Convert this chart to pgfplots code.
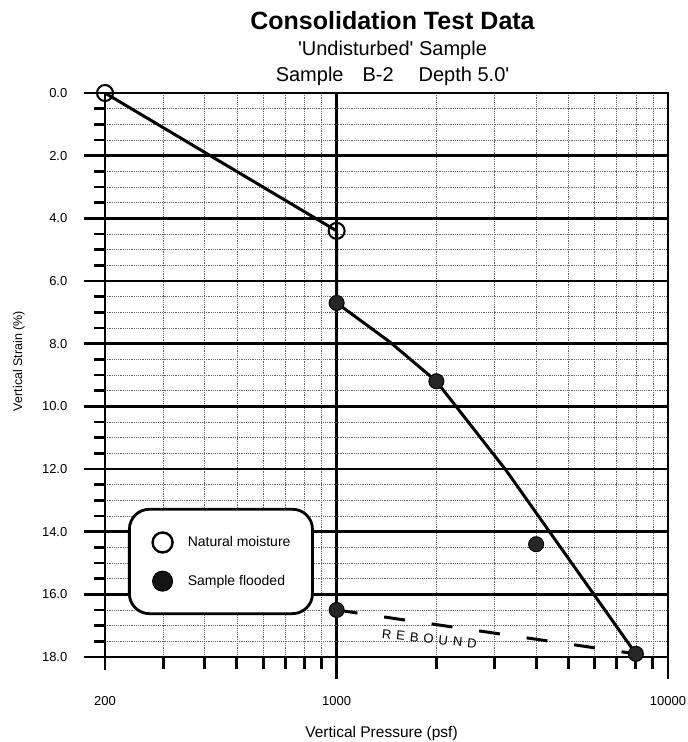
\documentclass[border=0pt]{standalone}
\usepackage{fontspec}
\setmainfont{Liberation Sans}
\newfontfamily\plainsans{Liberation Sans}
\usepackage{pgfplots}
\pgfplotsset{compat=1.18}
\begin{document}
\begin{tikzpicture}[x=1pt,y=1pt]
\useasboundingbox (-105,-85) rectangle (583,657);
\begin{axis}[
  at={(0,0)}, anchor=south west,
  scale only axis, width=563pt, height=564pt,
  xmode=log, xmin=200, xmax=10000,
  ymin=0, ymax=18, y dir=reverse,
  xtick={1000,10000}, xticklabels={1000,10000},
  extra x ticks={200}, extra x tick labels={200},
  extra x tick style={grid=none, major tick length=13pt, xticklabel shift=26.5pt},
  minor xtick={300,400,500,600,700,800,900,2000,3000,4000,5000,6000,7000,8000,9000},
  ytick={0,2,4,6,8,10,12,14,16,18},
  yticklabels={0.0,2.0,4.0,6.0,8.0,10.0,12.0,14.0,16.0,18.0},
  minor ytick={0.5,1,1.5,2.5,3,3.5,4.5,5,5.5,6.5,7,7.5,8.5,9,9.5,10.5,11,11.5,12.5,13,13.5,14.5,15,15.5,16.5,17,17.5},
  grid=both,
  major grid style={black, line width=2.8pt},
  minor grid style={black!60, line width=0.6pt, dash pattern=on 1.2pt off 1pt},
  tick align=outside, tick pos=left,
  major tick length=21.5pt, minor tick length=11.5pt,
  tick style={black, line width=2.8pt},
  axis line style={line width=2.8pt},
  tick label style={font=\fontsize{13}{15}\selectfont},
  /pgf/number format/assume math mode=true,
  xticklabel style={anchor=north, inner sep=0pt},
  yticklabel style={anchor=east, inner sep=0pt},
  xticklabel shift=18pt,
  yticklabel shift=16pt,
  clip=false,
  legend cell align=left,
  legend style={at={(axis cs:234.6,13.24)}, anchor=north west, draw=black,
    line width=2.8pt, rounded corners=20pt, inner xsep=22pt, inner ysep=22pt,
    row sep=17pt, column sep=14pt, nodes={inner sep=0pt},
    font=\fontsize{14}{16}\selectfont},
]
\addplot[black, line width=3pt, forget plot] coordinates {
  (200,0) (1000,4.4) (1000,6.7) (1449,7.95) (2000,9.2) (3250,12.05) (8000,17.9)};
\addplot[black, line width=3pt, dash pattern=on 21pt off 27pt, forget plot] coordinates {
  (1000,16.5) (8000,17.9)};
\addplot[only marks, mark=o, mark size=8pt, mark options={black, line width=2pt},
  legend image code/.code={\draw[black, line width=2.4pt] (0pt,0pt) circle (10pt);}]
  coordinates {(200,0) (1000,4.4)};
\addlegendentry{Natural moisture}
\addplot[only marks, mark=*, mark size=7.5pt, mark options={draw=black, fill=black!85, line width=1pt},
  legend image code/.code={\draw[black, fill=black!92, line width=1pt] (0pt,0pt) circle (10pt);}]
  coordinates {(1000,6.7) (2000,9.2) (4000,14.4) (8000,17.9) (1000,16.5)};
\addlegendentry{Sample flooded}
\node[rotate=-6, font=\fontsize{13}{15}\selectfont] at (axis cs:1905,17.42)
  {R\hspace{5pt}E\hspace{5pt}B\hspace{5pt}O\hspace{5pt}U\hspace{5pt}N\hspace{5pt}D};
\end{axis}
\node[anchor=base, font=\fontsize{25}{30}\selectfont\bfseries] at (287.5,627) {Consolidation Test Data};
\node[anchor=base, font=\fontsize{20}{24}\selectfont\plainsans] at (287.5,601) {'Undisturbed' Sample};
\node[anchor=base, font=\fontsize{20}{24}\selectfont\plainsans] at (287.5,575) {Sample\hspace{0.95em}B-2\hspace{1.25em}Depth 5.0'};
\node[rotate=90, font=\fontsize{12.5}{15}\selectfont] at (-86,296) {Vertical Strain (\%)};
\node[anchor=base, font=\fontsize{15.5}{18}\selectfont] at (276.5,-80) {Vertical Pressure (psf)};
\end{tikzpicture}
\end{document}
